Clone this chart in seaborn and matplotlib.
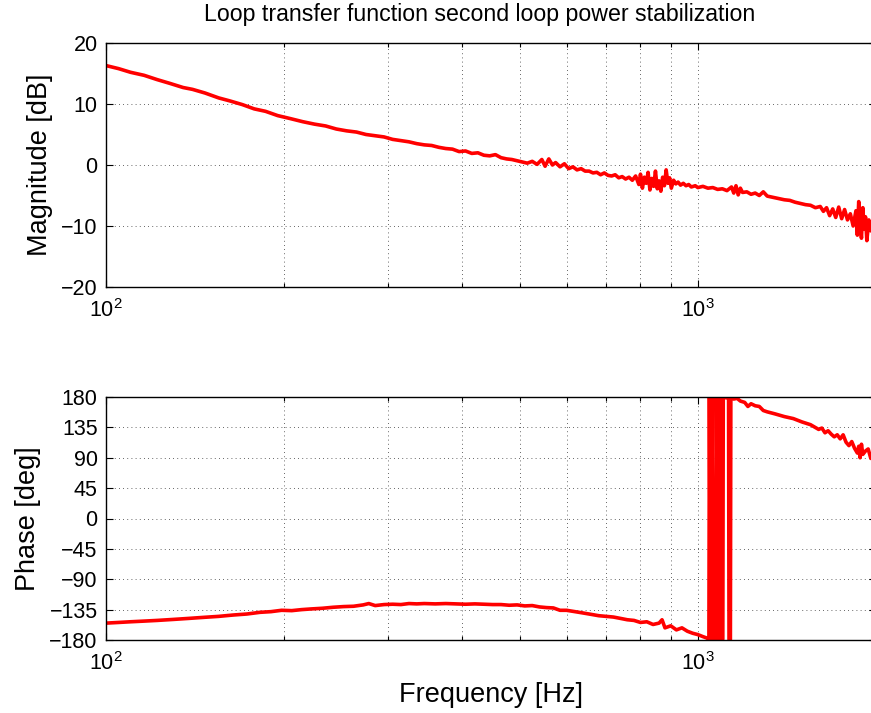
import matplotlib
matplotlib.use("Agg")
import matplotlib.pyplot as plt
import matplotlib.ticker as mticker
import seaborn as sns

# Bode plot of the second loop of the power stabilization

mag_freq = [100, 105, 110, 116, 122, 128, 135, 140, 147, 155, 162, 170, 178, 186, 195,
            205, 215, 225, 235, 245, 255, 265, 275, 285, 295, 305, 315, 325, 335, 345,
            355, 365, 375, 385, 395, 405, 415, 425, 435, 445, 455, 465, 475, 485, 495,
            505, 515, 525, 535, 545, 552, 560, 568, 575, 585, 595, 605, 615, 625, 635,
            645, 655, 665, 675, 685, 695, 705, 715, 725, 735, 745, 755, 765, 775, 785,
            795, 800, 806, 812, 818, 824, 830, 836, 842, 848, 854, 860, 866, 872, 878,
            884, 890, 896, 902, 910, 918, 926, 935, 945, 955, 965, 975, 990, 1000,
            1020, 1040, 1060, 1080, 1100, 1120, 1140, 1150, 1160, 1170, 1180, 1190,
            1210, 1230, 1250, 1270, 1290, 1310, 1340, 1370, 1400, 1430, 1460, 1490,
            1520, 1550, 1580, 1610, 1630, 1650, 1670, 1690, 1710, 1730, 1750, 1770,
            1790, 1810, 1830, 1850, 1860, 1870, 1880, 1890, 1900, 1910, 1920, 1930,
            1945, 1960, 1975, 1990, 2000]
mag_db = [16.3, 15.8, 15.2, 14.7, 14.0, 13.4, 12.7, 12.4, 11.8, 11.0, 10.5, 9.9, 9.2, 8.8, 8.1,
          7.6, 7.1, 6.7, 6.4, 5.9, 5.6, 5.4, 5.0, 4.8, 4.6, 4.2, 4.0, 3.8, 3.5, 3.3,
          3.2, 2.9, 2.7, 2.6, 2.2, 2.3, 1.9, 2.0, 1.6, 1.5, 1.7, 1.2, 1.0, 0.9, 0.7,
          0.5, 0.3, 0.6, 0.1, 0.9, -0.2, 1.0, 0.0, 0.4, -0.3, 0.2, -0.6, -0.3, -0.8, -0.6,
          -1.0, -1.0, -1.3, -1.2, -1.6, -1.3, -1.7, -1.8, -1.6, -2.1, -1.9, -2.3, -2.0, -2.5, -1.8,
          -3.2, -1.5, -3.8, -2.0, -3.0, -1.2, -4.1, -2.2, -3.5, -1.0, -3.9, -2.6, -4.3, -2.0, -3.4,
          -0.8, -3.0, -2.1, -3.8, -2.5, -3.1, -2.8, -3.3, -3.0, -3.4, -3.2, -3.6, -3.4, -3.7,
          -3.5, -3.8, -3.7, -4.0, -3.9, -4.2, -3.6, -4.6, -3.4, -4.9, -3.8, -4.5,
          -4.4, -4.8, -4.6, -5.0, -4.4, -5.1, -5.3, -5.5, -5.7, -5.8, -6.1, -6.3,
          -6.5, -6.6, -7.0, -6.8, -7.6, -7.0, -8.3, -7.2, -8.6, -6.9, -8.8, -7.3,
          -9.0, -8.0, -10.0, -7.5, -11.5, -6.0, -9.5, -12.0, -7.0, -10.5, -8.5, -12.4,
          -9.0, -10.8, -8.7, -9.3, -9.0]

phase_freq = [100, 105, 110, 116, 122, 130, 138, 146, 155, 164, 173, 182, 190, 198, 206,
              214, 222, 232, 242, 252, 262, 272, 278, 285, 295, 305, 315, 325, 335, 345,
              360, 375, 390, 405, 420, 435, 450, 465, 480, 495, 510, 525, 540, 555, 570,
              585, 600, 620, 640, 660, 680, 700, 720, 740, 760, 780, 800, 820, 840, 860,
              870, 880, 900, 920, 940, 960, 980, 1000, 1020, 1035, 1044, 1046, 1050, 1056,
              1058, 1062, 1073, 1075, 1082, 1090, 1092, 1096, 1102, 1104, 1115, 1127,
              1129, 1135, 1137, 1150, 1165, 1180, 1200, 1215, 1230, 1250, 1270, 1290,
              1310, 1350, 1400, 1450, 1500, 1550, 1600, 1620, 1640, 1660, 1680, 1700,
              1720, 1740, 1760, 1780, 1800, 1820, 1840, 1860, 1870, 1880, 1890, 1900,
              1920, 1940, 1960, 1980, 2000]
phase_deg = [-155, -154, -153, -152, -151, -149.5, -148, -146.5, -145, -143, -141.5, -139, -138, -136, -136.5,
             -135, -134, -133, -131.5, -130.5, -130, -128, -126, -129, -127.5, -127, -127.5, -126, -126.5, -126,
             -126.5, -126, -126.5, -127, -126.5, -127, -127.5, -127.5, -128.5, -128, -129.5, -129, -131, -132, -132.5,
             -136, -136, -138, -140, -142, -144, -145, -146, -148, -150, -151, -154, -153, -157, -155,
             -150, -162, -159, -165, -162, -167, -170, -172, -175, -177, -179, 179, -179, -179.5,
             179, -179, -179.5, 179, -178, -179.5, 179, -179.5, -179, 179, 179, 178,
             -179.5, -179.5, 178, 177, 178, 174, 172, 166, 170, 167, 166, 160,
             158, 155, 151, 148, 143, 139, 132, 134, 127, 130, 125, 121,
             124, 118, 124, 113, 108, 114, 104, 97, 107, 90, 110, 95,
             100, 103, 89, 104, 97]

title = "Loop transfer function second loop power stabilization"
x_label = "Frequency [Hz]"
mag_label = "Magnitude [dB]"
phase_label = "Phase [deg]"
mag_ticks = [-20, -10, 0, 10, 20]
phase_ticks = [-180, -135, -90, -45, 0, 45, 90, 135, 180]

sns.set_style("ticks")
plt.rcParams["font.family"] = ["Liberation Sans", "DejaVu Sans"]
plt.rcParams["mathtext.fontset"] = "custom"
plt.rcParams["mathtext.rm"] = "Liberation Sans"
plt.rcParams["mathtext.it"] = "Liberation Sans"
plt.rcParams["xtick.direction"] = "in"
plt.rcParams["ytick.direction"] = "in"
plt.rcParams["text.color"] = "black"
plt.rcParams["axes.labelcolor"] = "black"
plt.rcParams["xtick.color"] = "black"
plt.rcParams["ytick.color"] = "black"

fig = plt.figure(figsize=(8.71, 7.13), dpi=100)
ax1 = fig.add_axes([106 / 871, 1 - 287 / 713, 770 / 871, 244 / 713])
ax2 = fig.add_axes([106 / 871, 1 - 640 / 713, 770 / 871, 243 / 713])

sns.lineplot(x=mag_freq, y=mag_db, ax=ax1, color="red", lw=2.6, estimator=None, sort=False)
sns.lineplot(x=phase_freq, y=phase_deg, ax=ax2, color="red", lw=2.6, estimator=None, sort=False)

for ax, ticks, lab in [(ax1, mag_ticks, mag_label), (ax2, phase_ticks, phase_label)]:
    ax.set_xscale("log")
    ax.set_xlim(100, 2000)
    ax.set_ylim(ticks[0], ticks[-1])
    ax.set_yticks(ticks)
    ax.xaxis.set_major_locator(mticker.FixedLocator([100, 1000]))
    ax.xaxis.set_minor_locator(mticker.FixedLocator([200, 300, 400, 500, 600, 700, 800, 900]))
    ax.xaxis.set_major_formatter(mticker.FixedFormatter(["$10^2$", "$10^3$"]))
    ax.xaxis.set_minor_formatter(mticker.NullFormatter())
    ax.tick_params(which="both", top=True, right=True, labelsize=15.5, width=0.8,
                   color="black", labelcolor="black")
    ax.tick_params(which="major", length=5)
    ax.tick_params(axis="x", which="major", pad=9)
    ax.tick_params(axis="y", which="major", pad=6)
    ax.tick_params(which="minor", length=3)
    ax.grid(True, which="major", axis="both", color="#333333", lw=0.6, ls=(0, (1, 4)))
    ax.grid(True, which="minor", axis="x", color="#333333", lw=0.6, ls=(0, (1, 4)))
    ax.set_ylabel(lab, fontsize=19.5, labelpad=6)
    ax.set_xlabel("")
    for s in ax.spines.values():
        s.set_linewidth(1.0)
        s.set_color("black")

ax2.set_xlabel(x_label, fontsize=19.5, labelpad=5)
fig.text(480 / 871, 1 - 15 / 713, title, fontsize=16.7, ha="center", va="center")

fig.savefig("out.png", dpi=100)
